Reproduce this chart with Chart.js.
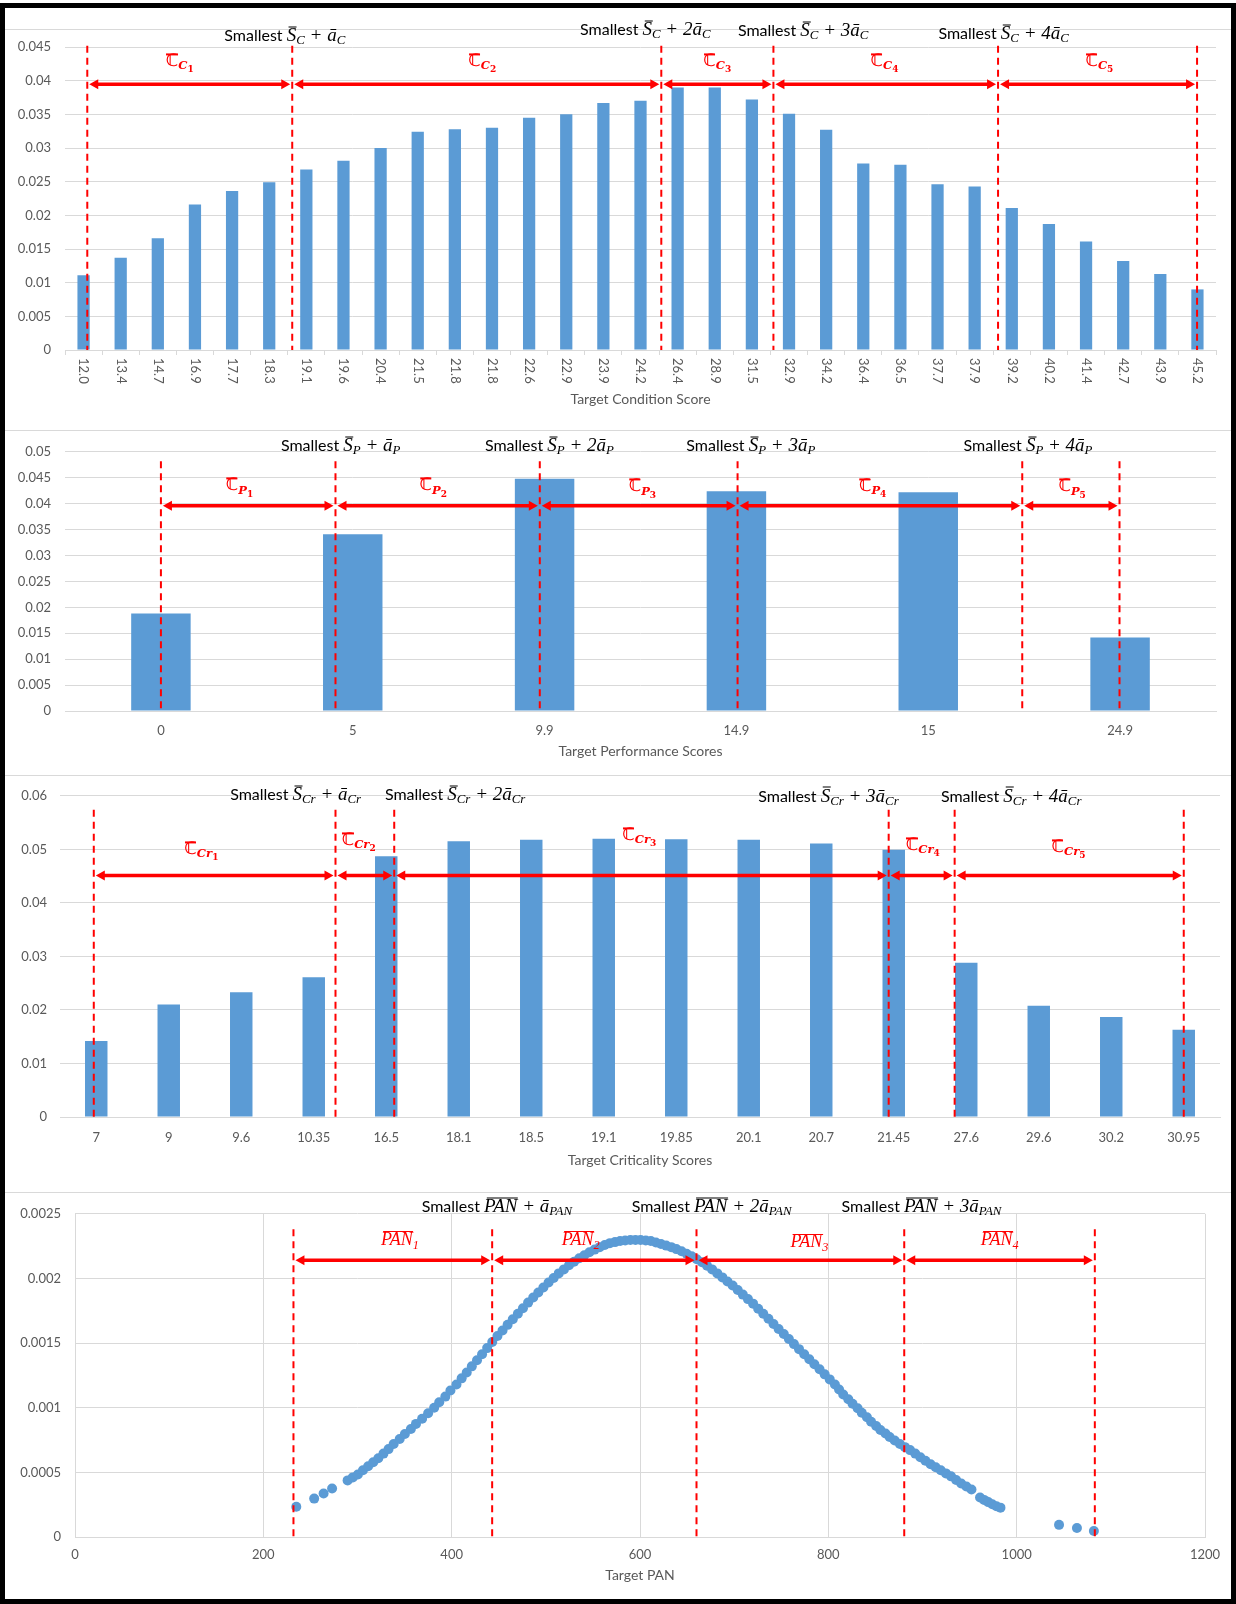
<!DOCTYPE html>
<html>
<head>
<meta charset="utf-8">
<script src="https://cdn.jsdelivr.net/npm/chart.js@4.4.1/dist/chart.umd.min.js"></script>
<style>
body { margin: 0; background: #fff; }
#page { position: relative; width: 1236px; height: 1604px; overflow: hidden; background: #fff; }
.panel { position: absolute; left: 0; width: 1236px; }
.panel canvas { position: absolute; left: 0; top: 0; }
.sep { position: absolute; left: 0; width: 1236px; height: 1px; background: #d9d9d9; }
#frame { position: absolute; left: 0; top: 3px; width: 1236px; height: 1601px; border: 5px solid #000; box-sizing: border-box; }
.lbl { position: absolute; transform: translate(-50%, calc(-50% - 5px)); white-space: nowrap; line-height: 1; }
.blk { color: #000; font-family: Lato; font-size: 16px; }
.blk .m { font-family: 'Liberation Serif'; font-style: italic; font-size: 19px; }
.red { color: #f00; font-family: 'DejaVu Serif', 'DejaVu Sans'; font-weight: bold; font-size: 17px; }
.redpan { color: #f00; font-family: 'Liberation Serif'; font-style: italic; font-size: 18px; }
.bar { position: relative; display: inline-block; }
.bar::before { content: ''; position: absolute; left: 0.12em; right: -0.04em; top: 0.1em; border-top: 1px solid currentColor; }
.red .bar::before { left: 0.04em; right: 0.04em; top: 0.06em; border-top-width: 2px; }
.lbl sub { font-size: 68%; vertical-align: -0.3em; line-height: 0; }
.lbl sub sub { font-size: 78%; }
</style>
</head>
<body>
<div id="page">
  <div class="sep" style="top:29px"></div>
  <div class="sep" style="top:430px"></div>
  <div class="sep" style="top:775px"></div>
  <div class="sep" style="top:1192px"></div>
  <div class="panel" style="top:0;height:430px"><canvas id="c1" width="1236" height="430"></canvas></div>
  <div class="panel" style="top:430px;height:345px"><canvas id="c2" width="1236" height="345"></canvas></div>
  <div class="panel" style="top:775px;height:417px"><canvas id="c3" width="1236" height="417"></canvas></div>
  <div class="panel" style="top:1192px;height:412px"><canvas id="c4" width="1236" height="412"></canvas></div>
  <div id="frame"></div>
</div>
<script>
// condition scores
const condScores = ['12.0','13.4','14.7','16.9','17.7','18.3','19.1','19.6','20.4','21.5','21.8','21.8','22.6','22.9','23.9','24.2',
  '26.4','28.9','31.5','32.9','34.2','36.4','36.5','37.7','37.9','39.2','40.2','41.4','42.7','43.9','45.2'];
const condFreq = [0.0111,0.0137,0.0166,0.0216,0.0236,0.0249,0.0268,0.0281,0.0300,0.0324,0.0328,0.0330,0.0345,0.0350,0.0367,0.0370,
  0.0390,0.0390,0.0372,0.0351,0.0327,0.0277,0.0275,0.0246,0.0243,0.0211,0.0187,0.0161,0.0132,0.0113,0.0090];
const condBounds = [0.10, 5.62, 15.56, 18.58, 24.63, 29.99];

// performance scores
const perfScores = ['0','5','9.9','14.9','15','24.9'];
const perfFreq = [0.0188, 0.0341, 0.0448, 0.0424, 0.0422, 0.0142];
const perfBounds = [0, 0.91, 1.975, 3.006, 4.49, 4.997];

// criticality scores
const critScores = ['7','9','9.6','10.35','16.5','18.1','18.5','19.1','19.85','20.1','20.7','21.45','27.6','29.6','30.2','30.95'];
const critFreq = [0.0142,0.0210,0.0233,0.0261,0.0487,0.0515,0.0518,0.0520,0.0519,0.0518,0.0511,0.0499,0.0288,0.0208,0.0187,0.0163];
const critBounds = [-0.034, 3.30, 4.11, 10.93, 11.84, 15.0];

// target PAN scatter
const panX = [235, 254, 264, 273,
  289.5, 295.0, 300.4, 305.8, 311.3, 316.7, 322.1, 327.6, 333.0, 338.4,
  344.8, 350.3, 356.7, 362.1, 368.6, 375.0, 381.4, 386.8, 393.3, 398.7,
  405.1, 410.6, 416.0, 421.4, 426.9, 432.3, 437.7, 443.1, 448.6, 454.0,
  459.4, 464.9, 470.3, 475.7, 481.2, 486.6, 492.0, 497.4, 502.9, 508.3,
  513.7, 519.2, 524.6, 530.0, 535.5, 540.9, 546.3, 551.8, 557.2, 562.6,
  568.0, 573.5, 578.9, 584.3, 589.8, 595.2, 600.6, 606.1, 611.5, 616.9,
  622.3, 627.8, 633.2, 638.6, 644.1, 649.5, 654.9, 660.3, 665.8, 671.2,
  676.6, 682.1, 687.5, 692.9, 698.4, 703.8, 709.2, 714.6, 720.1, 725.5,
  730.9, 736.4, 741.8, 747.2, 752.7, 758.1, 763.5, 768.9, 774.4, 779.8,
  785.2, 790.7, 796.1, 801.5, 807.0, 811.4, 815.8, 821.2, 825.7, 831.1,
  835.5, 841.0, 845.4, 850.8, 855.3, 860.7, 865.1, 870.5, 876.0, 881.4,
  886.8, 892.3, 897.7, 903.1, 908.6, 914.0, 919.4, 924.9, 930.3, 935.7,
  941.1, 946.6, 952.0,
  961.1, 965.4, 969.8, 974.1, 978.5, 982.8,
  1045, 1064, 1082];
const panY = [0.000234, 0.000297, 0.000336, 0.000375,
  0.000438, 0.000461, 0.000484, 0.000516, 0.000547, 0.000578, 0.000609, 0.000645, 0.000680, 0.000719,
  0.000758, 0.000797, 0.000836, 0.000875, 0.000914, 0.000957, 0.001000, 0.001043, 0.001086, 0.001133,
  0.001180, 0.001227, 0.001273, 0.001320, 0.001367, 0.001414, 0.001461, 0.001508, 0.001555, 0.001598,
  0.001641, 0.001684, 0.001727, 0.001770, 0.001813, 0.001852, 0.001891, 0.001930, 0.001969, 0.002004,
  0.002039, 0.002070, 0.002102, 0.002129, 0.002156, 0.002180, 0.002203, 0.002223, 0.002242, 0.002258,
  0.002273, 0.002281, 0.002289, 0.002293, 0.002297, 0.002297, 0.002297, 0.002293, 0.002289, 0.002278,
  0.002266, 0.002254, 0.002242, 0.002227, 0.002211, 0.002191, 0.002172, 0.002148, 0.002125, 0.002098,
  0.002070, 0.002039, 0.002008, 0.001977, 0.001945, 0.001910, 0.001875, 0.001840, 0.001805, 0.001766,
  0.001727, 0.001688, 0.001648, 0.001609, 0.001570, 0.001531, 0.001492, 0.001453, 0.001414, 0.001375,
  0.001336, 0.001297, 0.001258, 0.001219, 0.001180, 0.001141, 0.001102, 0.001066, 0.001031, 0.000996,
  0.000961, 0.000926, 0.000891, 0.000859, 0.000828, 0.000801, 0.000773, 0.000746, 0.000719, 0.000695,
  0.000672, 0.000645, 0.000617, 0.000590, 0.000563, 0.000539, 0.000516, 0.000492, 0.000469, 0.000441,
  0.000414, 0.000391, 0.000367,
  0.000305, 0.000287, 0.000270, 0.000254, 0.000238, 0.000227,
  0.000094, 0.000070, 0.000047];
const panBounds = [232, 443, 660, 880.6, 1083];

const GRID = '#d9d9d9', TXT = '#595959', BLUE = '#5b9bd5', RED = '#ff0000';
Chart.defaults.font.family = 'Lato';
Chart.defaults.color = TXT;

function yfmt(v) { return String(parseFloat(v.toFixed(6))); }

function smallest(sym, k) {
  return 'Smallest <span class="m"><span class="bar">S</span><sub>' + sym + '</sub> + ' + k + 'ā<sub>' + sym + '</sub></span>';
}
function smallestPan(k) {
  return 'Smallest <span class="m"><span class="bar">PAN</span> + ' + k + 'ā<sub>PAN</sub></span>';
}
function cbar(sym, n) {
  return '<span class="bar">ℂ</span><sub><i>' + sym + '</i><sub>' + n + '</sub></sub>';
}
function panbar(n) {
  return '<span class="bar">PAN</span><sub>' + n + '</sub>';
}

function drawArrow(ctx, x1, x2, y) {
  const hl = 9, hw = 5;
  ctx.lineWidth = 3.5;
  ctx.beginPath(); ctx.moveTo(x1 + hl - 1, y); ctx.lineTo(x2 - hl + 1, y); ctx.stroke();
  ctx.beginPath(); ctx.moveTo(x1, y); ctx.lineTo(x1 + hl, y - hw); ctx.lineTo(x1 + hl, y + hw); ctx.closePath(); ctx.fill();
  ctx.beginPath(); ctx.moveTo(x2, y); ctx.lineTo(x2 - hl, y - hw); ctx.lineTo(x2 - hl, y + hw); ctx.closePath(); ctx.fill();
}

// dashed bounds, arrows, rotated ticks and html labels
function marks(o) {
  let placed = false;
  return {
    id: 'marks',
    afterDraw(chart) {
      const ctx = chart.ctx, xs = chart.scales.x, ys = chart.scales.y, ca = chart.chartArea;
      const px = o.bounds.map(b => xs.getPixelForValue(b));
      const y0 = ys.getPixelForValue(0), yt = ys.getPixelForValue(o.dashTop);
      ctx.save();
      ctx.strokeStyle = RED; ctx.fillStyle = RED;
      ctx.lineWidth = 2; ctx.setLineDash([7, 5]);
      px.forEach(x => { ctx.beginPath(); ctx.moveTo(x, yt); ctx.lineTo(x, y0); ctx.stroke(); });
      ctx.setLineDash([]);
      const ay = ys.getPixelForValue(o.arrowY);
      for (let i = 0; i < px.length - 1; i++) drawArrow(ctx, px[i] + 2, px[i + 1] - 2, ay);
      ctx.restore();

      if (o.rotated) {
        ctx.save();
        ctx.fillStyle = TXT; ctx.font = '13px Lato';
        ctx.textAlign = 'left'; ctx.textBaseline = 'middle';
        chart.data.labels.forEach((t, i) => {
          ctx.save();
          ctx.translate(xs.getPixelForValue(i), ca.bottom + 8);
          ctx.rotate(Math.PI / 2);
          ctx.fillText(t, 0, 0);
          ctx.restore();
        });
        ctx.restore();
      }

      if (!placed) {
        placed = true;
        const host = chart.canvas.parentNode;
        o.labels.forEach(l => {
          const d = document.createElement('div');
          d.className = 'lbl ' + l.cls;
          d.innerHTML = l.html;
          d.style.left = xs.getPixelForValue(l.x) + 'px';
          d.style.top = ys.getPixelForValue(l.y) + 'px';
          host.appendChild(d);
        });
      }
    }
  };
}

function barChart(id, labels, values, o) {
  return new Chart(document.getElementById(id), {
    type: 'bar',
    data: { labels: labels, datasets: [{ data: values, backgroundColor: BLUE, barPercentage: o.barPct, categoryPercentage: 1 }] },
    options: {
      responsive: false, animation: false, devicePixelRatio: 1,
      layout: { padding: { top: o.top, right: o.right, left: 0, bottom: 0 } },
      plugins: { legend: { display: false }, tooltip: { enabled: false } },
      scales: {
        x: {
          grid: { display: true, drawOnChartArea: false, drawTicks: !!o.rotated, tickLength: 5, color: GRID },
          border: { color: GRID },
          ticks: { display: !o.rotated, padding: o.tickPad || 0, color: TXT, font: { size: 13 }, maxRotation: 0, autoSkip: false },
          title: { display: true, text: o.title, color: TXT, font: { size: 14 }, padding: { top: 0, bottom: o.titlePad } },
          afterFit: s => { s.height = o.xh; }
        },
        y: {
          min: 0, max: o.max,
          ticks: { stepSize: o.step, padding: o.yPad, color: TXT, font: { size: 13 }, callback: yfmt },
          grid: { color: GRID, drawTicks: false },
          border: { display: false },
          afterFit: s => { s.width = o.yw; }
        }
      }
    },
    plugins: [marks(o)]
  });
}

barChart('c1', condScores, condFreq, {
  top: 47, right: 20, yw: 65, yPad: 14, xh: 80, titlePad: 22, max: 0.045, step: 0.005, barPct: 0.33,
  title: 'Target Condition Score', rotated: true,
  bounds: condBounds, dashTop: 0.0452, arrowY: 0.03945,
  labels: [
    { x: 5.42, y: 0.0462, cls: 'blk', html: smallest('C', '') },
    { x: 15.13, y: 0.0471, cls: 'blk', html: smallest('C', '2') },
    { x: 19.38, y: 0.0469, cls: 'blk', html: smallest('C', '3') },
    { x: 24.78, y: 0.0465, cls: 'blk', html: smallest('C', '4') },
    { x: 2.59, y: 0.0422, cls: 'red', html: cbar('C', 1) },
    { x: 10.74, y: 0.0422, cls: 'red', html: cbar('C', 2) },
    { x: 17.07, y: 0.0422, cls: 'red', html: cbar('C', 3) },
    { x: 21.57, y: 0.0422, cls: 'red', html: cbar('C', 4) },
    { x: 27.36, y: 0.0422, cls: 'red', html: cbar('C', 5) }
  ]
});

barChart('c2', perfScores, perfFreq, {
  top: 17, right: 20, yw: 65, yPad: 14, xh: 64, tickPad: 12, titlePad: 15, max: 0.05, step: 0.005, barPct: 0.31,
  title: 'Target Performance Scores',
  bounds: perfBounds, dashTop: 0.0482, arrowY: 0.0396,
  labels: [
    { x: 0.937, y: 0.0505, cls: 'blk', html: smallest('P', '') },
    { x: 2.025, y: 0.0505, cls: 'blk', html: smallest('P', '2') },
    { x: 3.075, y: 0.0505, cls: 'blk', html: smallest('P', '3') },
    { x: 4.52, y: 0.0505, cls: 'blk', html: smallest('P', '4') },
    { x: 0.41, y: 0.0426, cls: 'red', html: cbar('P', 1) },
    { x: 1.42, y: 0.0426, cls: 'red', html: cbar('P', 2) },
    { x: 2.51, y: 0.0424, cls: 'red', html: cbar('P', 3) },
    { x: 3.71, y: 0.0425, cls: 'red', html: cbar('P', 4) },
    { x: 4.75, y: 0.0424, cls: 'red', html: cbar('P', 5) }
  ]
});

barChart('c3', critScores, critFreq, {
  top: 18, right: 16, yw: 60, yPad: 13, xh: 75, tickPad: 13, titlePad: 23, max: 0.06, step: 0.01, barPct: 0.31,
  title: 'Target Criticality Scores',
  bounds: critBounds, dashTop: 0.0574, arrowY: 0.0451,
  labels: [
    { x: 2.75, y: 0.0596, cls: 'blk', html: smallest('Cr', '') },
    { x: 4.95, y: 0.0596, cls: 'blk', html: smallest('Cr', '2') },
    { x: 10.1, y: 0.0593, cls: 'blk', html: smallest('Cr', '3') },
    { x: 12.62, y: 0.0593, cls: 'blk', html: smallest('Cr', '4') },
    { x: 1.45, y: 0.0492, cls: 'red', html: cbar('Cr', 1) },
    { x: 3.62, y: 0.0509, cls: 'red', html: cbar('Cr', 2) },
    { x: 7.49, y: 0.0518, cls: 'red', html: cbar('Cr', 3) },
    { x: 11.4, y: 0.0499, cls: 'red', html: cbar('Cr', 4) },
    { x: 13.41, y: 0.0495, cls: 'red', html: cbar('Cr', 5) }
  ]
});

const panOpts = {
  bounds: panBounds, dashTop: 0.00238, arrowY: 0.00214,
  labels: [
    { x: 448, y: 0.00253, cls: 'blk', html: smallestPan('') },
    { x: 676, y: 0.00253, cls: 'blk', html: smallestPan('2') },
    { x: 899, y: 0.00253, cls: 'blk', html: smallestPan('3') },
    { x: 345, y: 0.00227, cls: 'redpan', html: panbar(1) },
    { x: 537, y: 0.00227, cls: 'redpan', html: panbar(2) },
    { x: 780, y: 0.00225, cls: 'redpan', html: panbar(3) },
    { x: 982, y: 0.00227, cls: 'redpan', html: panbar(4) }
  ]
};

new Chart(document.getElementById('c4'), {
  type: 'scatter',
  data: { datasets: [{ data: panX.map((x, i) => ({ x: x, y: panY[i] })), backgroundColor: BLUE, borderWidth: 0, pointRadius: 5 }] },
  options: {
    responsive: false, animation: false, devicePixelRatio: 1,
    layout: { padding: { top: 17.5, right: 31, left: 0, bottom: 0 } },
    plugins: { legend: { display: false }, tooltip: { enabled: false } },
    scales: {
      x: {
        type: 'linear', min: 0, max: 1200,
        ticks: { stepSize: 200, padding: 10, color: TXT, font: { size: 13 }, callback: v => String(v) },
        grid: { color: GRID, drawTicks: false },
        border: { color: GRID },
        title: { display: true, text: 'Target PAN', color: TXT, font: { size: 14 }, padding: { top: 0, bottom: 20 } },
        afterFit: s => { s.height = 67; }
      },
      y: {
        min: 0, max: 0.0025,
        ticks: { stepSize: 0.0005, padding: 14, color: TXT, font: { size: 13 }, callback: yfmt },
        grid: { color: GRID, drawTicks: false },
        border: { display: false },
        afterFit: s => { s.width = 75; }
      }
    }
  },
  plugins: [marks(panOpts)]
});
</script>
</body>
</html>
